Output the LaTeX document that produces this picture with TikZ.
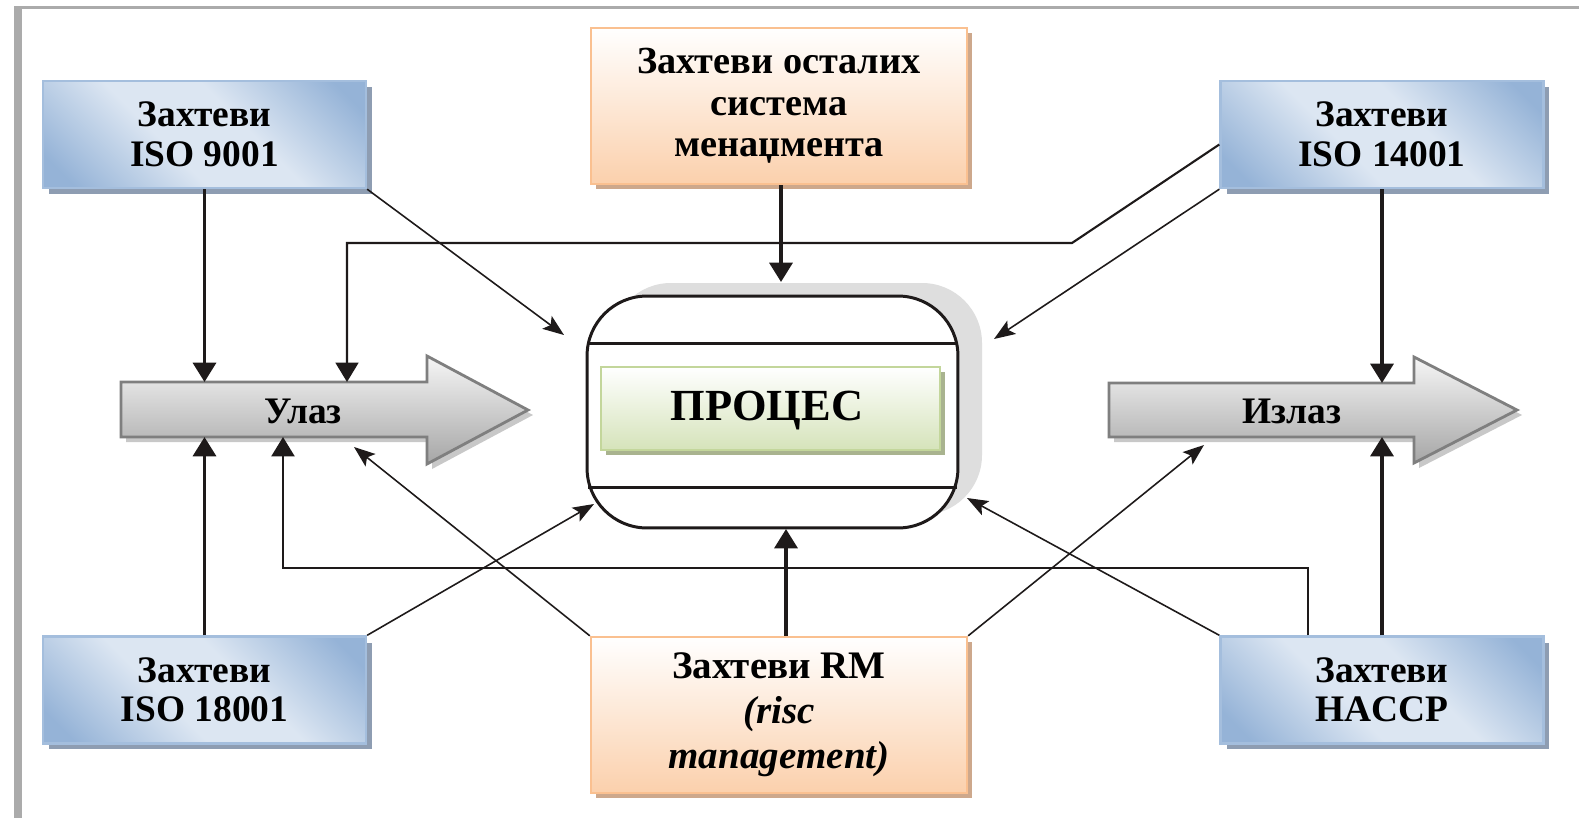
\documentclass[tikz,border=0pt]{standalone}
\usepackage{fontspec}
\setmainfont{Liberation Serif}
\usetikzlibrary{arrows.meta,shadows,calc}
\definecolor{bdark}{HTML}{95B3D7}
\definecolor{blight}{HTML}{DCE6F2}
\definecolor{bborder}{HTML}{A4BEDD}
\definecolor{bshadow}{HTML}{8E9DB2}
\definecolor{oborder}{HTML}{FAC090}
\definecolor{ofill}{HTML}{FBD0AC}
\definecolor{oshadow}{HTML}{CDA88C}
\definecolor{gborder}{HTML}{C3D69B}
\definecolor{gfill}{HTML}{D5E3BA}
\definecolor{gshadow}{HTML}{A9B38F}
\definecolor{framecol}{HTML}{ABABAB}
\definecolor{ink}{HTML}{1E1A1A}
\definecolor{pshadow}{HTML}{DEDEDE}
\definecolor{arrborder}{HTML}{7F7F7F}
\definecolor{arrtop}{HTML}{F6F6F6}
\definecolor{arrbot}{HTML}{A6A6A6}
\definecolor{arrshadow}{HTML}{C8C8C8}
\pgfdeclarehorizontalshading{bluediag}{100bp}{color(0bp)=(bdark); color(20bp)=(bdark); color(42bp)=(blight); color(58bp)=(blight); color(80bp)=(bdark); color(100bp)=(bdark)}
\begin{document}
\begin{tikzpicture}[x=0.02cm,y=-0.02cm,
  boxfont/.style={font=\bfseries\fontsize{21.3}{22.5}\selectfont},
  bluebox/.style={boxfont, draw=bborder, line width=1.4pt, shade, shading=bluediag, shading angle=45,
    minimum width=6.46cm, minimum height=2.14cm, align=center, inner sep=0pt,
    drop shadow={shadow xshift=0.12cm, shadow yshift=-0.12cm, fill=bshadow, opacity=1}},
  orangebox/.style={boxfont, draw=oborder, line width=1.4pt, top color=white, bottom color=ofill,
    minimum width=7.52cm, minimum height=3.12cm, align=center, inner sep=0pt,
    drop shadow={shadow xshift=0.1cm, shadow yshift=-0.1cm, fill=oshadow, opacity=1}},
  blockarrow/.style={draw=arrborder, line width=1.6pt, top color=arrtop, bottom color=arrbot},
  thickarr/.style={draw=ink, line width=2.2pt, -{Triangle[length=11pt,width=13pt]}},
  thinarr/.style={draw=ink, line width=0.9pt, -{Stealth[length=12pt,width=9pt,inset=2.5pt]}},
  medarr/.style={draw=ink, line width=1.2pt, -{Triangle[length=11pt,width=13pt]}},
  elbowarr/.style={draw=ink, line width=1.5pt, -{Triangle[length=11pt,width=13pt]}}
]
\useasboundingbox (0,0) rectangle (1579,818);
\fill[white] (0,0) rectangle (1579,818);
% frame
\draw[framecol, line width=1.7pt] (15,7.5) -- (1579,7.5);
\draw[framecol, line width=4.5pt] (18,6) -- (18,818);

% boxes
\node[bluebox] (iso9001) at (204.5,134.5) {Захтеви\\ISO 9001};
\node[bluebox] (iso14001) at (1382,134.5) {Захтеви\\ISO 14001};
\node[bluebox] (iso18001) at (204.5,690) {Захтеви\\ISO 18001};
\node[bluebox] (haccp) at (1382,690) {Захтеви\\HACCP};
\node[orangebox, font=\bfseries\fontsize{21.8}{23.5}\selectfont] (top) at (779,106) {Захтеви осталих\\система\\менаџмента};
\node[orangebox, font=\bfseries\fontsize{22.2}{25.5}\selectfont] (rm) at (779,715) {Захтеви RM\\\textit{(risc}\\\textit{management)}};

% process
\fill[pshadow, rounded corners=1.2cm] (611,283) rectangle (982,515);
\node[draw=ink, fill=white, line width=1.7pt, rounded corners=1.2cm, minimum width=7.42cm, minimum height=4.64cm, inner sep=0pt] (proc) at (772.5,412) {};
\draw[ink, line width=1.7pt] ([yshift=-0.98cm,xshift=0.05cm]proc.north west) -- ([yshift=-0.98cm,xshift=-0.05cm]proc.north east);
\draw[ink, line width=1.7pt] ([yshift=0.84cm,xshift=0.05cm]proc.south west) -- ([yshift=0.84cm,xshift=-0.05cm]proc.south east);
\node[draw=gborder, line width=1.2pt, top color=white, bottom color=gfill, minimum width=6.78cm, minimum height=1.66cm, inner sep=0pt,
  drop shadow={shadow xshift=0.1cm, shadow yshift=-0.1cm, fill=gshadow, opacity=1}] (procbox) at (770.5,408.5) {};
\node[font=\bfseries\fontsize{25.3}{28}\selectfont, inner sep=0pt] (procname) at (767,411) {ПРОЦЕС};

% block arrows
\fill[arrshadow] (126,387) -- (432,387) -- (432,361) -- (533,415) -- (432,469) -- (432,442) -- (126,442) -- cycle;
\path[blockarrow] (121,382) -- (427,382) -- (427,356) -- (528,410) -- (427,464) -- (427,437) -- (121,437) -- cycle;
\node[boxfont] (inlabel) at (303,411) {Улаз};
\fill[arrshadow] (1114,388) -- (1419,388) -- (1419,362) -- (1522,415) -- (1419,468) -- (1419,442) -- (1114,442) -- cycle;
\path[blockarrow] (1109,383) -- (1414,383) -- (1414,357) -- (1517,410) -- (1414,463) -- (1414,437) -- (1109,437) -- cycle;
\node[boxfont] (outlabel) at (1292,411) {Излаз};

% endpoints
\coordinate (inT1) at (204.5,382);
\coordinate (inT2) at (347,382);
\coordinate (inB1) at (204.5,437);
\coordinate (inB2) at (283,437);
\coordinate (inB3) at (354,447);
\coordinate (outT) at (1382,383);
\coordinate (outB1) at (1382,437);
\coordinate (outB2) at (1204,445);
\coordinate (pTop) at (781,282);
\coordinate (pBot) at (786,529);
\coordinate (pNW) at (564,335);
\coordinate (pNE) at (994,339);
\coordinate (pSW) at (594,504);
\coordinate (pSE) at (967,498);
\coordinate (bend1) at (1072,243);
\coordinate (bend3) at (1308,568);

% connectors
\draw[thickarr] (iso9001.south) -- (inT1);
\draw[thinarr] (iso9001.south east) -- (pNW);
\draw[thickarr] (top.south -| pTop) -- (pTop);
\draw[medarr] ([yshift=-0.2cm]iso14001.west) -- (bend1) -- (bend1 -| inT2) -- (inT2);
\draw[thinarr] (iso14001.south west) -- (pNE);
\draw[thickarr] (iso14001.south) -- (outT);
\draw[thickarr] (iso18001.north) -- (inB1);
\draw[thinarr] (iso18001.north east) -- (pSW);
\draw[thinarr] (rm.north west) -- (inB3);
\draw[thickarr] (rm.north -| pBot) -- (pBot);
\draw[thinarr] (rm.north east) -- (outB2);
\draw[thinarr] (haccp.north west) -- (pSE);
\draw[elbowarr] (haccp.north -| bend3) -- (bend3) -- (bend3 -| inB2) -- (inB2);
\draw[thickarr] (haccp.north) -- (outB1);
\end{tikzpicture}
\end{document}
